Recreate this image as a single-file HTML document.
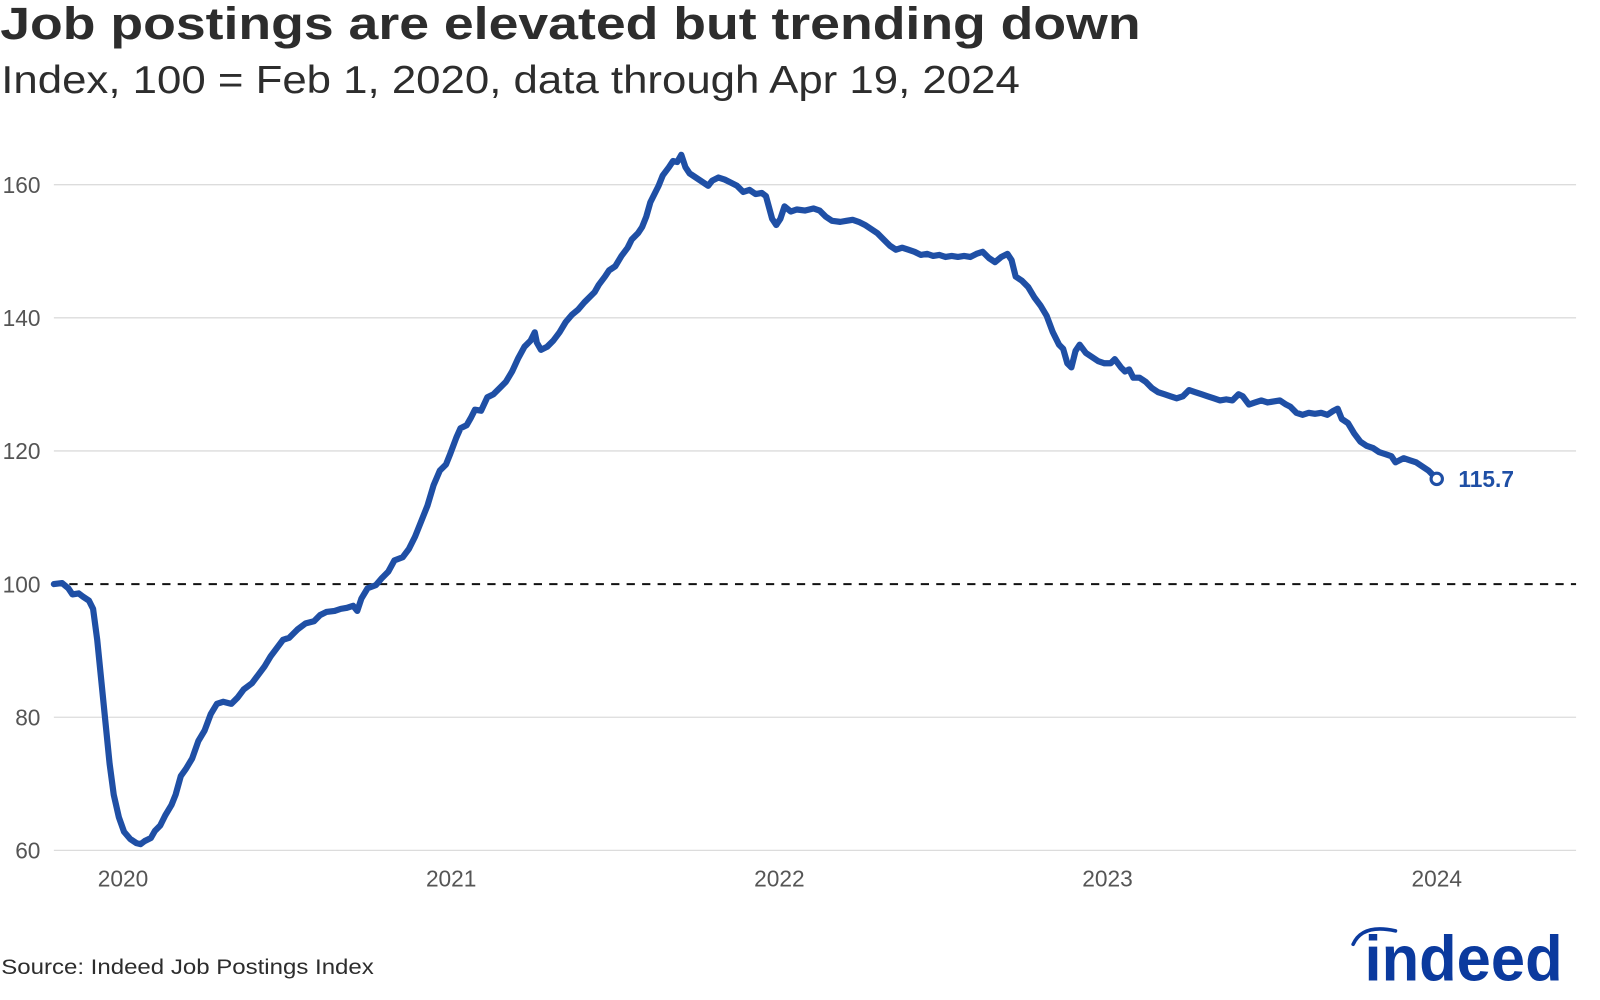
<!DOCTYPE html>
<html><head><meta charset="utf-8"><style>
html,body{margin:0;padding:0;background:#fff;width:1600px;height:1000px;overflow:hidden}
svg{display:block}
text{font-family:"Liberation Sans","DejaVu Sans",sans-serif}
</style></head><body>
<svg width="1600" height="1000" viewBox="0 0 1550 969" xmlns="http://www.w3.org/2000/svg">
<rect width="1550" height="969" fill="#fff"/>
<text x="0" y="38" font-size="44" font-weight="bold" fill="#2d2d2d" textLength="1105" lengthAdjust="spacingAndGlyphs">Job postings are elevated but trending down</text>
<text x="1" y="90" font-size="38" fill="#2d2d2d" textLength="987" lengthAdjust="spacingAndGlyphs">Index, 100 = Feb 1, 2020, data through Apr 19, 2024</text>
<g stroke="#dcdcdc" stroke-width="1.3">
<line x1="52" y1="179" x2="1527" y2="179"/>
<line x1="52" y1="308" x2="1527" y2="308"/>
<line x1="52" y1="437" x2="1527" y2="437"/>
<line x1="52" y1="695" x2="1527" y2="695"/>
<line x1="52" y1="824" x2="1527" y2="824"/>
</g>
<line x1="52" y1="566" x2="1527" y2="566" stroke="#111" stroke-width="2" stroke-dasharray="8 7"/>
<g font-size="22" fill="#555" text-anchor="end">
<text x="39" y="187">160</text>
<text x="39" y="316">140</text>
<text x="39" y="445">120</text>
<text x="39" y="574">100</text>
<text x="39" y="703">80</text>
<text x="39" y="832">60</text>
</g>
<g font-size="22" fill="#555" text-anchor="middle">
<text x="119" y="859">2020</text>
<text x="437" y="859">2021</text>
<text x="755" y="859">2022</text>
<text x="1073" y="859">2023</text>
<text x="1392" y="859">2024</text>
</g>
<polyline fill="none" stroke="#1f4fa5" stroke-width="6" stroke-linejoin="round" stroke-linecap="round" points="52,566 60,565 66,570 70,576 76,575 80,578 86,582 90,590 94,620 98,660 102,700 106,740 110,770 115,792 120,806 126,813 132,817 136,818 140,815 146,812 150,805 155,800 160,790 166,780 170,770 175,752 180,745 186,735 192,718 198,708 204,692 210,682 216,680 224,682 230,676 236,668 244,662 250,654 256,646 262,636 268,628 274,620 280,618 288,610 296,604 304,602 310,596 316,593 324,592 330,590 336,589 342,587 346,592 350,580 356,570 364,567 370,560 376,554 382,543 390,540 396,532 402,520 410,500 414,490 420,470 426,456 432,450 436,440 442,424 446,415 452,412 456,405 460,397 466,398 472,385 478,382 484,376 490,370 496,360 502,347 508,336 514,330 518,322 520,332 524,339 530,336 536,330 542,322 548,312 554,305 560,300 566,293 572,287 576,283 580,276 586,268 590,262 596,258 602,248 608,240 612,232 618,226 622,220 626,210 630,196 634,188 638,180 642,170 648,162 652,156 656,157 660,150 664,162 668,168 674,172 680,176 686,180 690,175 696,172 702,174 708,177 714,180 720,186 726,184 732,188 738,187 742,190 748,212 752,218 756,212 760,200 766,205 772,203 780,204 788,202 794,204 800,210 806,214 814,215 820,214 826,213 832,215 838,218 844,222 850,226 856,232 862,238 868,242 874,240 880,242 886,244 892,247 898,246 904,248 910,247 916,249 922,248 928,249 934,248 940,249 946,246 952,244 958,250 964,254 970,249 976,246 980,252 984,268 990,272 996,278 1002,288 1008,296 1014,306 1020,322 1026,334 1030,338 1034,352 1038,356 1042,340 1046,334 1052,342 1058,346 1064,350 1070,352 1076,352 1080,348 1086,356 1090,360 1094,358 1098,366 1104,366 1110,370 1116,376 1122,380 1128,382 1134,384 1140,386 1146,384 1152,378 1158,380 1164,382 1170,384 1176,386 1182,388 1188,387 1194,388 1200,382 1204,384 1210,392 1216,390 1222,388 1228,390 1234,389 1240,388 1246,392 1250,394 1256,400 1262,402 1268,400 1274,401 1280,400 1286,402 1292,398 1296,396 1300,406 1306,410 1312,420 1318,428 1324,432 1330,434 1336,438 1342,440 1348,442 1352,448 1356,446 1360,444 1366,446 1372,448 1378,452 1384,456 1390,462"/>
<circle cx="1392" cy="464" r="5.5" fill="#fff" stroke="#1f4fa5" stroke-width="3"/>
<text x="1413" y="472" font-size="22" font-weight="bold" fill="#1f4fa5">115.7</text>
<text x="1" y="944" font-size="21" fill="#2d2d2d" textLength="361" lengthAdjust="spacingAndGlyphs">Source: Indeed Job Postings Index</text>
<text x="1322" y="950" font-size="62" font-weight="bold" fill="#0b3a9e" textLength="192" lengthAdjust="spacingAndGlyphs">indeed</text>
<path d="M1311,915 Q1320,895 1352,902" fill="none" stroke="#0b3a9e" stroke-width="3.5" stroke-linecap="round"/>
</svg>
</body></html>
